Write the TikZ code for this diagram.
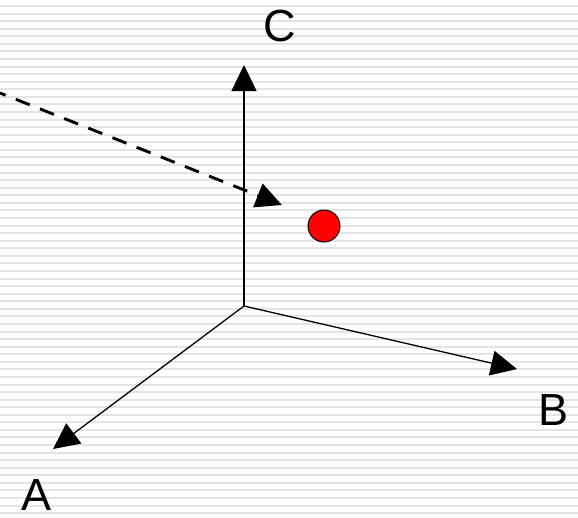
\documentclass[tikz,border=0pt]{standalone}
\usepackage{fontspec}
\setmainfont{Liberation Sans}
\usetikzlibrary{arrows.meta}
\definecolor{stripe}{HTML}{E4E4E4}
\tikzset{
  axis/.style={line width=1.3pt, -{Triangle[length=26pt,width=25pt]}},
  dasharrow/.style={line width=2.9pt, dash pattern=on 15pt off 11pt, dash phase=9pt,
    -{Triangle[length=26pt,width=25pt]}},
  lbl/.style={inner sep=0pt, font=\fontsize{45}{50}\selectfont},
  dot/.style={circle, fill=red, draw=black, line width=1pt, minimum size=32pt, inner sep=0pt}
}
\begin{document}
\begin{tikzpicture}[x=1pt,y=-1pt]
\useasboundingbox (0,0) rectangle (578,517);
\fill[white] (0,0) rectangle (578,517);
\foreach \k in {0,...,67} {
  \fill[stripe] (0,{5+7.57*\k}) rectangle (578,{7+7.57*\k});
}
\coordinate (O) at (244,306);
\coordinate (Ct) at (244,65);
\coordinate (Bt) at (517,369);
\coordinate (At) at (53,449);
\coordinate (Ds) at (0,93);
\coordinate (Dt) at (282,205);
\draw[axis] (O) -- (Ct);
\draw[axis] (O) -- (Bt);
\draw[axis] (O) -- (At);
\draw[dasharrow] (Ds) -- (Dt);
\node[dot] (P) at (324,226) {};
\node[lbl] (C) at (280,26) {C};
\node[lbl] (B) at (553,410) {B};
\node[lbl] (A) at (37,495) {A};
\end{tikzpicture}
\end{document}
